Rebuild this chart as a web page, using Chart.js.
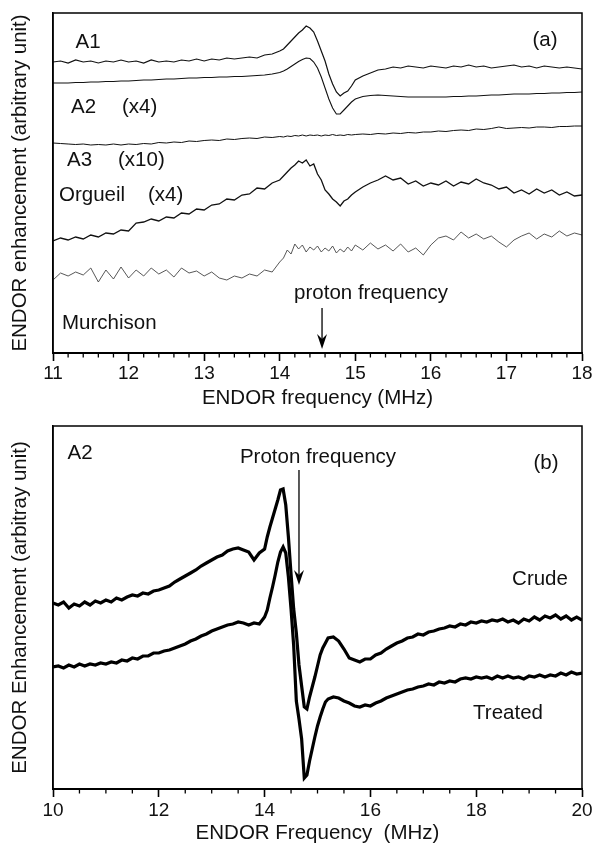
<!DOCTYPE html>
<html><head><meta charset="utf-8">
<script src="https://cdn.jsdelivr.net/npm/chart.js@4.4.1/dist/chart.umd.min.js"></script>
<style>
html,body{margin:0;padding:0;background:#fff;}
#wrap{position:relative;width:595px;height:850px;overflow:hidden;}
#ca{position:absolute;left:0;top:0;}
#cb{position:absolute;left:0;top:413px;}
</style></head><body>
<div id="wrap"><canvas id="ca" width="595" height="420"></canvas><canvas id="cb" width="595" height="437"></canvas></div>
<script>
// ---------- Panel (a) data ----------
const aFreq = [11.0,11.1,11.2,11.3,11.4,11.5,11.6,11.7,11.8,11.9,12.0,12.1,12.2,12.3,12.4,12.5,12.6,12.7,12.8,12.9,13.0,13.1,13.2,13.3,13.4,13.5,13.6,13.7,13.8,13.9,14.0,
  14.05,14.1,14.15,14.2,14.25,14.3,14.35,14.4,14.45,14.5,14.55,14.6,14.65,14.7,14.75,14.8,14.85,14.9,14.95,15.0,
  15.1,15.2,15.3,15.4,15.5,15.6,15.7,15.8,15.9,16.0,16.1,16.2,16.3,16.4,16.5,16.6,16.7,16.8,16.9,17.0,17.1,17.2,17.3,17.4,17.5,17.6,17.7,17.8,17.9,18.0];
const a1 = [291,292,290,293,291,292,290,292,291,293, 291,292,290,293,291,292,291,293,292,294, 292,294,293,295,294,295,296,295,298,299, 302,
  304,308,312,316,320,323,327,325,321,312,302,292,279,269,261,257,260,262,267,273,
  277,280,283,284,286,285,287,286,285, 287,286,285,287,286,288,286,287,285,286, 287,288,286,287,285,287,286,285,286,285, 284];
const a2 = [270,270,270,270.5,270.5,271,271,271.5,271.5,272, 272,272.5,273,273,273.5,274,274,274.5,275,275, 275.5,275.5,276,276,276.5,276.5,277,277.5,278,279, 280.5,
  282,284,286.5,289,291.5,293.5,295,294.5,291,285,276,265,254,245,239,239,243,247,251,254,
  256.5,257.5,258,257.5,257,256.5,256,256,256, 256,256,256,256.5,256.5,257,257,257.5,258,258, 258.5,259,259,259,259.5,259.5,260,260,260.5,260.5, 261];
const a3 = [210,209.5,209,208.5,209,208,208.5,208,209,208, 209,208.5,209.5,209,210.5,210,211,210.5,212,211.5, 212.5,213,212.5,214,213.5,214.5,215,214.5,216,215.5, 216.5,
  216,217,216.5,217.5,217,218,217,218,217.5,218,217,218,217.5,218.5,217.5,218,217.5,218.5,218,218.5,
  219,218.5,219.5,219,220,219.5,220.5,220,221, 221,222,221.5,222.5,223,222.5,224,223.5,224.5,226, 224.5,225,225.5,225,226,226,225.5,226.5,226.5,227, 227];
const orgueil = [112,115,113,116,114,118,116,120,119,123, 122,130,131,134,132,136,135,140,139,144, 143,148,149,154,153,158,159,165,164,170, 173,
  177,181,185,188,192,190,193,187,189,179,173,163,159,154,151,147,152,154,158,161,
  166,170,173,177,173,175,169,172,167, 170,168,172,167,171,169,174,170,168,164, 166,160,163,159,164,160,163,158,161,157, 158];
const murchison = [73,80,77,81,78,85,71,83,74,86, 75,83,77,85,79,83,76,85,80,82, 77,81,75,73,77,75,79,77,83,81, 91,
  95,103,99,109,104,108,101,106,103,107,101,105,102,107,100,104,101,106,102,108,
  103,110,104,108,102,109,101,105,98, 108,115,117,113,121,115,119,114,117,111, 106,113,117,120,114,119,116,122,117,120, 118];
const aMajorTicks = [11,12,13,14,15,16,17,18];
const aProtonFreq = 14.56;

// ---------- Panel (b) data ----------
const bFreq = [10.0,10.1,10.2,10.3,10.4,10.5,10.6,10.7,10.8,10.9,11.0,11.1,11.2,11.3,11.4,11.5,11.6,11.7,11.8,11.9,12.0,12.1,12.2,12.3,12.4,12.5,12.6,12.7,12.8,12.9,13.0,13.1,13.2,13.3,13.4,13.5,13.6,13.7,13.8,13.9,14.0,
  14.05,14.1,14.15,14.2,14.25,14.3,14.35,14.4,14.45,14.5,14.55,14.6,14.65,14.7,14.75,14.8,14.85,14.9,14.95,15.0,15.05,15.1,15.15,15.2,
  15.3,15.4,15.5,15.6,15.7,15.8,15.9,16.0,16.1,16.2,16.3,16.4,16.5,16.6,16.7,16.8,16.9,17.0,17.1,17.2,17.3,17.4,17.5,17.6,17.7,17.8,17.9,18.0,18.1,18.2,18.3,18.4,18.5,18.6,18.7,18.8,18.9,19.0,19.1,19.2,19.3,19.4,19.5,19.6,19.7,19.8,19.9,20.0];
const crude = [186,184,187,181,185,183,187,184,188,186, 189,187,191,189,192,194,193,196,195,198, 199,201,203,207,210,213,216,219,223,226, 229,232,234,238,240,241,239,237,229,236, 240,
  252,262,271,280,289,299,300,284,252,215,180,156,124,103,82,80,92,102,112,123,134,141,146,151,
  152,148,140,131,129,127,130, 130,134,136,140,143,146,148,151,152,155, 154,157,158,160,161,163,162,165,164,167, 166,168,167,169,168,170,167,169,166,170, 168,172,169,173,171,174,170,173,169,172, 169];
const treated = [122,123,121,124,122,125,123,125,124,126, 125,127,126,129,128,131,130,133,133,136, 136,138,139,141,143,145,148,150,153,155, 158,160,162,164,165,167,166,164,166,165, 172,
  179,191,202,214,227,237,242,236,212,180,143,88,70,50,11,14,28,40,52,63,72,80,87,90,
  92,91,88,86,83,82,84, 83,86,88,91,93,95,97,99,100,102, 103,105,104,107,106,108,107,110,111,110, 112,111,112,110,113,111,113,111,112,110, 113,112,114,112,114,113,116,114,117,115, 116];
const bMajorTicks = [10,12,14,16,18,20];
const bProtonFreq = 14.65;

// ---------- helpers ----------
const FONT = "'Liberation Sans', Arial, Helvetica, sans-serif";
function pts(xs, ys){ return xs.map((x,i)=>({x:x, y:ys[i]})); }
function isMajor(v, majors){ return majors.some(m => Math.abs(m - v) < 1e-6); }

const framePlugin = {
  id: 'frameAndNotes',
  afterDraw(chart, args, opts){
    const ctx = chart.ctx, ca = chart.chartArea, xs = chart.scales.x;
    ctx.save();
    ctx.strokeStyle = '#000'; ctx.lineWidth = 1.5;
    ctx.strokeRect(ca.left, ca.top, ca.right - ca.left, ca.bottom - ca.top);
    ctx.lineWidth = 2.2;
    ctx.beginPath(); ctx.moveTo(ca.left, ca.bottom); ctx.lineTo(ca.right, ca.bottom); ctx.stroke();
    ctx.lineWidth = 1.3;
    xs.ticks.forEach(t => {
      if (isMajor(t.value, opts.majors)) return;
      const px = xs.getPixelForValue(t.value);
      ctx.beginPath(); ctx.moveTo(px, ca.bottom); ctx.lineTo(px, ca.bottom + 4.5); ctx.stroke();
    });
    ctx.fillStyle = '#111';
    ctx.font = '20.5px ' + FONT;
    ctx.textBaseline = 'middle';
    opts.texts.forEach(t => { ctx.textAlign = t.align || 'left'; ctx.fillText(t.s, t.x, t.y); });
    const ar = opts.arrow;
    const ax = xs.getPixelForValue(ar.f);
    ctx.lineWidth = 1.3;
    ctx.beginPath(); ctx.moveTo(ax, ar.y1); ctx.lineTo(ax, ar.y2 - 8); ctx.stroke();
    ctx.beginPath();
    ctx.moveTo(ax, ar.y2); ctx.lineTo(ax - 5, ar.y2 - 15); ctx.lineTo(ax, ar.y2 - 10); ctx.lineTo(ax + 5, ar.y2 - 15); ctx.closePath();
    ctx.fillStyle = '#000'; ctx.fill();
    ctx.restore();
  }
};

function makeOptions(cfg){
  return {
    responsive: false, animation: false, devicePixelRatio: 1,
    layout: { padding: { left: 0, top: 13, right: 13, bottom: 0 } },
    plugins: { legend: { display: false }, tooltip: { enabled: false }, frameAndNotes: cfg.notes },
    elements: { point: { radius: 0 }, line: { tension: 0 } },
    scales: {
      x: {
        type: 'linear', min: cfg.xmin, max: cfg.xmax,
        afterFit: s => { s.height = cfg.xh; },
        ticks: {
          stepSize: cfg.step, maxTicksLimit: 200, autoSkip: false, maxRotation: 0, padding: cfg.tickPad,
          color: '#111', font: { family: FONT, size: 19 },
          callback: v => isMajor(v, cfg.notes.majors) ? String(Math.round(v)) : ''
        },
        grid: {
          drawOnChartArea: false, drawTicks: true, tickLength: 8, tickWidth: 1.6,
          tickColor: c => (c.tick && isMajor(c.tick.value, cfg.notes.majors)) ? '#000' : 'rgba(0,0,0,0)'
        },
        border: { display: true, color: '#000', width: 2 },
        title: { display: true, text: cfg.xtitle, color: '#111', font: { family: FONT, size: 20.5 }, padding: { top: 0, bottom: cfg.xTitlePad } }
      },
      y: {
        type: 'linear', min: 0, max: cfg.ymax,
        afterFit: s => { s.width = 53; },
        ticks: { display: false },
        grid: { display: false, drawTicks: false },
        border: { display: true, color: '#000', width: 1.5 },
        title: { display: true, text: cfg.ytitle, color: '#111', font: { family: FONT, size: 20.5 }, padding: { top: 8, bottom: 0 } }
      }
    }
  };
}

new Chart(document.getElementById('ca'), {
  type: 'line',
  data: { datasets: [
    { label: 'A1', data: pts(aFreq, a1), borderColor: '#111', borderWidth: 1.2 },
    { label: 'A2 (x4)', data: pts(aFreq, a2), borderColor: '#111', borderWidth: 1.1 },
    { label: 'A3 (x10)', data: pts(aFreq, a3), borderColor: '#111', borderWidth: 1.0 },
    { label: 'Orgueil (x4)', data: pts(aFreq, orgueil), borderColor: '#111', borderWidth: 1.3 },
    { label: 'Murchison', data: pts(aFreq, murchison), borderColor: '#444', borderWidth: 0.9 }
  ]},
  options: makeOptions({
    xmin: 11, xmax: 18, step: 0.2, xh: 67, tickPad: 1, xTitlePad: 9.5, ymax: 340,
    xtitle: 'ENDOR frequency (MHz)', ytitle: 'ENDOR enhancement (arbitrary unit)',
    notes: {
      majors: aMajorTicks,
      texts: [
        { s: 'A1', x: 88, y: 42, align: 'center' },
        { s: '(a)', x: 545, y: 40, align: 'center' },
        { s: 'A2', x: 71, y: 107 }, { s: '(x4)', x: 122, y: 107 },
        { s: 'A3', x: 67, y: 160 }, { s: '(x10)', x: 118, y: 160 },
        { s: 'Orgueil', x: 59, y: 195 }, { s: '(x4)', x: 148, y: 195 },
        { s: 'Murchison', x: 62, y: 323 },
        { s: 'proton frequency', x: 371, y: 293, align: 'center' }
      ],
      arrow: { f: aProtonFreq, y1: 308, y2: 349 }
    }
  }),
  plugins: [framePlugin]
});

new Chart(document.getElementById('cb'), {
  type: 'line',
  data: { datasets: [
    { label: 'Crude', data: pts(bFreq, crude), borderColor: '#000', borderWidth: 3.2 },
    { label: 'Treated', data: pts(bFreq, treated), borderColor: '#000', borderWidth: 3.2 }
  ]},
  options: makeOptions({
    xmin: 10, xmax: 20, step: 0.5, xh: 61, tickPad: 2, xTitlePad: 4.5, ymax: 363,
    xtitle: 'ENDOR Frequency  (MHz)', ytitle: 'ENDOR Enhancement (arbitray unit)',
    notes: {
      majors: bMajorTicks,
      texts: [
        { s: 'A2', x: 80, y: 40, align: 'center' },
        { s: 'Proton frequency', x: 318, y: 44, align: 'center' },
        { s: '(b)', x: 546, y: 50, align: 'center' },
        { s: 'Crude', x: 540, y: 166, align: 'center' },
        { s: 'Treated', x: 508, y: 300, align: 'center' }
      ],
      arrow: { f: bProtonFreq, y1: 57, y2: 172 }
    }
  }),
  plugins: [framePlugin]
});
</script>
</body></html>
